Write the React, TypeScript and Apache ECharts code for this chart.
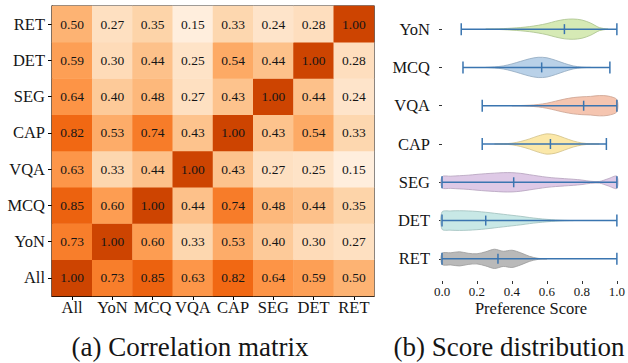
import React, { useEffect, useRef } from "react";
import * as echarts from "echarts";

// ---------- Heatmap data ----------
const HEAT_CATS = ["All", "YoN", "MCQ", "VQA", "CAP", "SEG", "DET", "RET"];
const CORR_ALL = [1.0, 0.73, 0.85, 0.63, 0.82, 0.64, 0.59, 0.5];
const CORR_YON = [0.73, 1.0, 0.6, 0.33, 0.53, 0.4, 0.3, 0.27];
const CORR_MCQ = [0.85, 0.6, 1.0, 0.44, 0.74, 0.48, 0.44, 0.35];
const CORR_VQA = [0.63, 0.33, 0.44, 1.0, 0.43, 0.27, 0.25, 0.15];
const CORR_CAP = [0.82, 0.53, 0.74, 0.43, 1.0, 0.43, 0.54, 0.33];
const CORR_SEG = [0.64, 0.4, 0.48, 0.27, 0.43, 1.0, 0.44, 0.24];
const CORR_DET = [0.59, 0.3, 0.44, 0.25, 0.54, 0.44, 1.0, 0.28];
const CORR_RET = [0.5, 0.27, 0.35, 0.15, 0.33, 0.24, 0.28, 1.0];
const CORR_ROWS = [CORR_ALL, CORR_YON, CORR_MCQ, CORR_VQA, CORR_CAP, CORR_SEG, CORR_DET, CORR_RET];

// ---------- Violin data ----------
const VIOLIN_CATS = ["YoN", "MCQ", "VQA", "CAP", "SEG", "DET", "RET"];
const WHISKER_MIN = [0.11, 0.12, 0.23, 0.23, 0.0, 0.0, 0.0];
const WHISKER_MAX = [1.0, 0.96, 1.0, 0.94, 1.0, 1.0, 1.0];
const MEDIANS = [0.7, 0.57, 0.81, 0.62, 0.41, 0.25, 0.32];
const SAMPLE_X = [0, 0.05, 0.1, 0.15, 0.2, 0.25, 0.3, 0.35, 0.4, 0.45, 0.5, 0.55, 0.6, 0.65, 0.7, 0.75, 0.8, 0.85, 0.9, 0.95, 1.0];
const DENS_YON = [0, 0, 0, 0, 0, 0, 0.02, 0.05, 0.1, 0.16, 0.25, 0.38, 0.55, 0.78, 0.95, 1.0, 0.9, 0.6, 0.15, 0, 0];
const DENS_MCQ = [0, 0, 0, 0, 0, 0, 0.05, 0.15, 0.35, 0.6, 0.85, 1.0, 0.95, 0.7, 0.4, 0.15, 0.03, 0, 0, 0, 0];
const DENS_VQA = [0, 0, 0, 0, 0, 0, 0, 0, 0, 0.02, 0.05, 0.12, 0.25, 0.45, 0.65, 0.8, 0.88, 0.92, 1.0, 0.95, 0.6];
const DENS_CAP = [0, 0, 0, 0, 0, 0, 0, 0.02, 0.08, 0.25, 0.5, 0.8, 1.0, 0.9, 0.6, 0.3, 0.1, 0.02, 0, 0, 0];
const DENS_SEG = [0.55, 0.6, 0.65, 0.7, 0.78, 0.85, 0.9, 0.95, 0.95, 0.88, 0.75, 0.62, 0.5, 0.42, 0.36, 0.3, 0.22, 0.1, 0.08, 0.35, 0.6];
const DENS_DET = [0.85, 0.95, 0.97, 0.95, 0.9, 0.82, 0.72, 0.62, 0.52, 0.42, 0.3, 0.2, 0.12, 0.06, 0.02, 0, 0, 0, 0, 0, 0];
const DENS_RET = [0.55, 0.6, 0.7, 0.55, 0.5, 0.7, 0.95, 0.75, 0.85, 0.6, 0.25, 0.05, 0, 0, 0, 0, 0, 0, 0, 0, 0];
const VIOLIN_DENS = [DENS_YON, DENS_MCQ, DENS_VQA, DENS_CAP, DENS_SEG, DENS_DET, DENS_RET];
const VIOLIN_FILL = ["#d6eab5", "#b9d1e8", "#f5c5b0", "#fbe8a9", "#dec9e6", "#c8e8e6", "#b9b9b9"];
const VIOLIN_EDGE = ["#a9c18d", "#90a8bf", "#cba290", "#d2c088", "#b4a1bc", "#9fbfbd", "#9a9a9a"];

const ORANGES = ["#fff5eb", "#fee6ce", "#fdd0a2", "#fdae6b", "#fd8d3c", "#f16913", "#d94801", "#a63603", "#7f2704"];
const FONT = "Liberation Serif";
const INK = "#151515";
const WHISKER = "#3a75b0";

export default function App() {
  const ref = useRef<HTMLDivElement>(null);
  useEffect(() => {
    if (!ref.current) return;
    const chart = echarts.init(ref.current, null, { renderer: "svg" });
    const heatData: number[][] = [];
    CORR_ROWS.forEach((row, yi) => row.forEach((v, xi) => heatData.push([xi, yi, v])));

    const violinData = VIOLIN_CATS.map((_, i) => [0, i]);
    const whiskerData = VIOLIN_CATS.map((_, i) => [WHISKER_MIN[i], i, MEDIANS[i], WHISKER_MAX[i]]);

    chart.setOption({
      animation: false,
      textStyle: { fontFamily: FONT, color: INK },
      grid: [
        { left: 52, top: 6, width: 322, height: 290, show: true, borderColor: "#000", borderWidth: 1.2, backgroundColor: "transparent" },
        { left: 442, top: 10, width: 175, height: 268 },
      ],
      xAxis: [
        {
          type: "category", gridIndex: 0, data: HEAT_CATS,
          axisLine: { show: true, lineStyle: { color: "#000", width: 1.2 } },
          axisTick: { show: true, alignWithLabel: true, length: 4, lineStyle: { color: "#000" } },
          axisLabel: { fontSize: 16.5, color: INK, fontFamily: FONT, margin: 3, interval: 0 },
          splitLine: { show: false },
        },
        {
          type: "value", gridIndex: 1, min: 0, max: 1, interval: 0.2, offset: 3,
          axisLine: { show: false },
          axisTick: { show: true, length: 3, lineStyle: { color: "#333" } },
          axisLabel: { fontSize: 13, color: INK, fontFamily: FONT, fontStyle: "normal", margin: 4, formatter: (v: number) => v.toFixed(1) },
          splitLine: { show: false },
        },
      ],
      yAxis: [
        {
          type: "category", gridIndex: 0, data: HEAT_CATS,
          axisLine: { show: true, lineStyle: { color: "#000", width: 1.2 } },
          axisTick: { show: true, alignWithLabel: true, length: 4, lineStyle: { color: "#000" } },
          axisLabel: { fontSize: 16.5, color: INK, fontFamily: FONT, margin: 7 },
          splitLine: { show: false },
        },
        {
          type: "category", gridIndex: 1, data: VIOLIN_CATS, inverse: true, offset: 6,
          axisLine: { show: false },
          axisTick: { show: true, alignWithLabel: true, length: 3, lineStyle: { color: "#333" } },
          axisLabel: { fontSize: 16.5, color: INK, fontFamily: FONT, margin: 6 },
          splitLine: { show: false },
        },
      ],
      visualMap: {
        type: "continuous", show: false, seriesIndex: 0, min: 0.08, max: 1.26, dimension: 2,
        inRange: { color: ORANGES },
      },
      series: [
        {
          type: "heatmap", xAxisIndex: 0, yAxisIndex: 0, data: heatData,
          label: { show: true, color: INK, fontSize: 13.5, fontFamily: FONT, formatter: (p: any) => p.value[2].toFixed(2) },
          itemStyle: { borderWidth: 0 },
          emphasis: { disabled: true },
        },
        {
          type: "custom", xAxisIndex: 1, yAxisIndex: 1, data: violinData, clip: false, z: 2,
          renderItem: (params: any, api: any) => {
            const i = api.value(1);
            const dens = VIOLIN_DENS[i];
            const band = api.size([0, 1])[1];
            const cy = api.coord([0, i])[1];
            const scale = band * 0.265;
            let first = -1, last = -1;
            dens.forEach((d, k) => { if (d > 0) { if (first < 0) first = k; last = k; } });
            const lo = Math.max(0, first - 1), hi = Math.min(dens.length - 1, last + 1);
            const top: number[][] = [], bottom: number[][] = [];
            for (let k = lo; k <= hi; k++) {
              const x = api.coord([SAMPLE_X[k], i])[0];
              const w = dens[k] * scale;
              top.push([x, cy - w]);
              bottom.unshift([x, cy + w]);
            }
            return {
              type: "polygon",
              shape: { points: top.concat(bottom), smooth: 0.3 },
              style: { fill: VIOLIN_FILL[i], stroke: VIOLIN_EDGE[i], lineWidth: 0.8 },
            };
          },
        },
        {
          type: "custom", xAxisIndex: 1, yAxisIndex: 1, data: whiskerData, clip: false, z: 3,
          renderItem: (params: any, api: any) => {
            const i = api.value(1);
            const p0 = api.coord([api.value(0), i]);
            const pm = api.coord([api.value(2), i]);
            const p1 = api.coord([api.value(3), i]);
            const st = { stroke: WHISKER, lineWidth: 1.5 };
            return {
              type: "group",
              children: [
                { type: "line", shape: { x1: p0[0], y1: p0[1], x2: p1[0], y2: p1[1] }, style: st },
                { type: "line", shape: { x1: p0[0], y1: p0[1] - 6, x2: p0[0], y2: p0[1] + 6 }, style: st },
                { type: "line", shape: { x1: p1[0], y1: p1[1] - 6, x2: p1[0], y2: p1[1] + 6 }, style: st },
                { type: "line", shape: { x1: pm[0], y1: pm[1] - 5, x2: pm[0], y2: pm[1] + 5 }, style: st },
              ],
            };
          },
        },
      ],
      graphic: [
        {
          type: "text", x: 531, y: 308,
          style: { text: "Preference Score", font: "16.5px Liberation Serif", fill: INK, align: "center", verticalAlign: "middle", textAlign: "center", textVerticalAlign: "middle" },
        },
        {
          type: "text", x: 190, y: 347,
          style: { text: "(a) Correlation matrix", font: "27px Liberation Serif", fill: INK, align: "center", verticalAlign: "middle", textAlign: "center", textVerticalAlign: "middle" },
        },
        {
          type: "text", x: 509, y: 347,
          style: { text: "(b) Score distribution", font: "27px Liberation Serif", fill: INK, align: "center", verticalAlign: "middle", textAlign: "center", textVerticalAlign: "middle" },
        },
      ],
    });
    return () => chart.dispose();
  }, []);
  return <div ref={ref} style={{ position: "absolute", left: 0, top: 0, width: 628, height: 363 }} />;
}
